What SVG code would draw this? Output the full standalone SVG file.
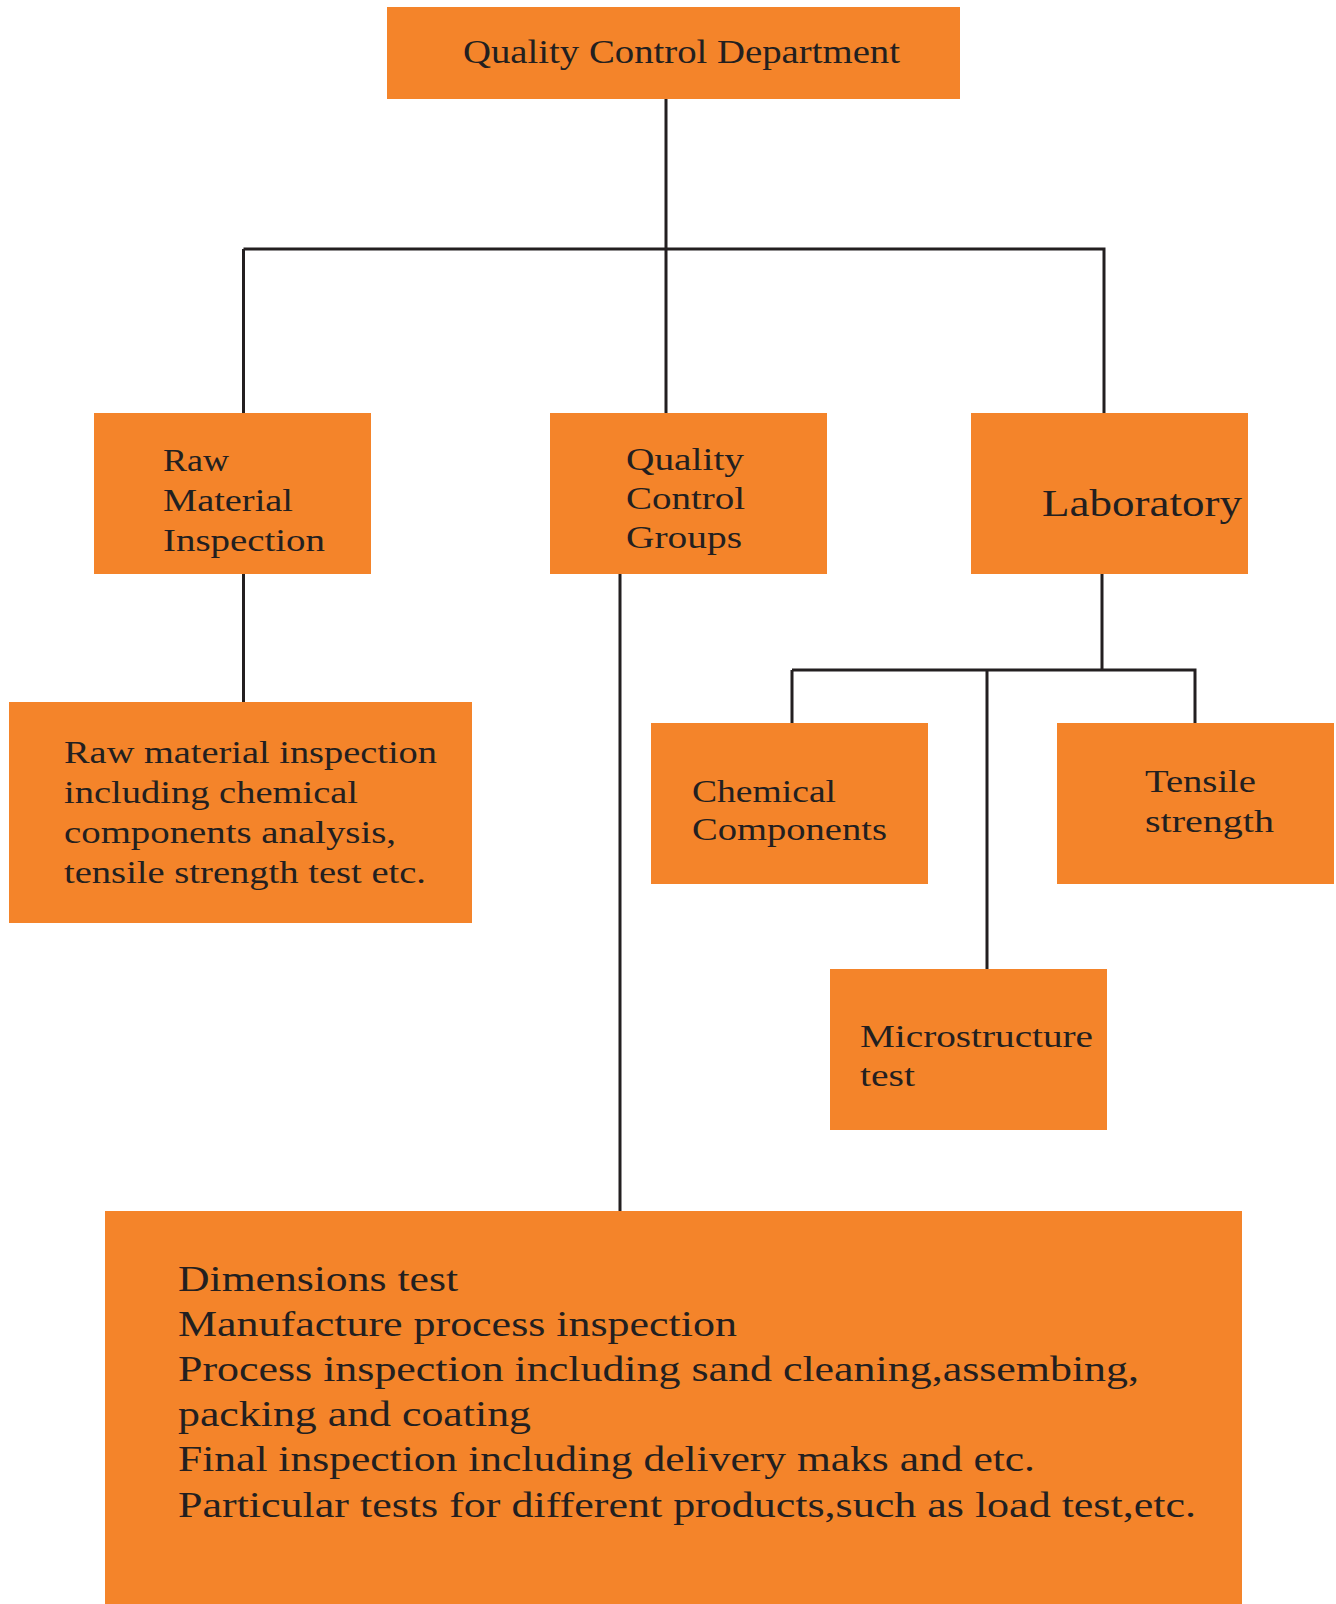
<svg xmlns="http://www.w3.org/2000/svg" width="1336" height="1604" viewBox="0 0 1336 1604">
<style>
.box{fill:#F4842A}
.t{font-family:"Liberation Serif","DejaVu Serif",serif;fill:#231F20}
.s30{font-size:32px}
.s31{font-size:33px}
.s36{font-size:38px}
.s34{font-size:35px}
.ln{stroke:#231F20;stroke-width:3;fill:none}
</style>
<rect width="1336" height="1604" fill="#ffffff"/>
<g id="connectors">
<path class="ln" d="M666 99V249M243.5 249H1105.5M243.5 249V413M666 249V413M1104 249V413"/>
<path class="ln" d="M243.5 573V702"/>
<path class="ln" d="M620 573V1211"/>
<path class="ln" d="M1102 573V670M792 670H1196.5M792 670V723M987 670V969M1195 670V723"/>
</g>
<g id="n-qcd">
<rect class="box" x="387" y="7" width="573" height="92"/>
<text class="t s31" x="463" y="63" textLength="437" lengthAdjust="spacingAndGlyphs">Quality Control Department</text>
</g>
<g id="n-rmi">
<rect class="box" x="94" y="413" width="277" height="161"/>
<text class="t s30" x="163" y="471" textLength="66" lengthAdjust="spacingAndGlyphs">Raw</text>
<text class="t s30" x="163" y="511" textLength="130" lengthAdjust="spacingAndGlyphs">Material</text>
<text class="t s30" x="163" y="551" textLength="162" lengthAdjust="spacingAndGlyphs">Inspection</text>
</g>
<g id="n-qcg">
<rect class="box" x="550" y="413" width="277" height="161"/>
<text class="t s30" x="626" y="470" textLength="118" lengthAdjust="spacingAndGlyphs">Quality</text>
<text class="t s30" x="626" y="509" textLength="119" lengthAdjust="spacingAndGlyphs">Control</text>
<text class="t s30" x="626" y="548" textLength="116" lengthAdjust="spacingAndGlyphs">Groups</text>
</g>
<g id="n-lab">
<rect class="box" x="971" y="413" width="277" height="161"/>
<text class="t s36" x="1042" y="516" textLength="200" lengthAdjust="spacingAndGlyphs">Laboratory</text>
</g>
<g id="n-rmi-detail">
<rect class="box" x="9" y="702" width="463" height="221"/>
<text class="t s30" x="64" y="763" textLength="373" lengthAdjust="spacingAndGlyphs">Raw material inspection</text>
<text class="t s30" x="64" y="803" textLength="294" lengthAdjust="spacingAndGlyphs">including chemical</text>
<text class="t s30" x="64" y="843" textLength="332" lengthAdjust="spacingAndGlyphs">components analysis,</text>
<text class="t s30" x="64" y="883" textLength="362" lengthAdjust="spacingAndGlyphs">tensile strength test etc.</text>
</g>
<g id="n-chem">
<rect class="box" x="651" y="723" width="277" height="161"/>
<text class="t s30" x="692" y="802" textLength="144" lengthAdjust="spacingAndGlyphs">Chemical</text>
<text class="t s30" x="692" y="840" textLength="195" lengthAdjust="spacingAndGlyphs">Components</text>
</g>
<g id="n-tensile">
<rect class="box" x="1057" y="723" width="277" height="161"/>
<text class="t s30" x="1145" y="792" textLength="111" lengthAdjust="spacingAndGlyphs">Tensile</text>
<text class="t s30" x="1145" y="832" textLength="129" lengthAdjust="spacingAndGlyphs">strength</text>
</g>
<g id="n-micro">
<rect class="box" x="830" y="969" width="277" height="161"/>
<text class="t s30" x="860" y="1047" textLength="233" lengthAdjust="spacingAndGlyphs">Microstructure</text>
<text class="t s30" x="860" y="1086" textLength="55" lengthAdjust="spacingAndGlyphs">test</text>
</g>
<g id="n-qcg-detail">
<rect class="box" x="105" y="1211" width="1137" height="393"/>
<text class="t s34" x="178" y="1291" textLength="280" lengthAdjust="spacingAndGlyphs">Dimensions test</text>
<text class="t s34" x="178" y="1336" textLength="559" lengthAdjust="spacingAndGlyphs">Manufacture process inspection</text>
<text class="t s34" x="178" y="1381" textLength="961" lengthAdjust="spacingAndGlyphs">Process inspection including sand cleaning,assembing,</text>
<text class="t s34" x="178" y="1426" textLength="353" lengthAdjust="spacingAndGlyphs">packing and coating</text>
<text class="t s34" x="178" y="1471" textLength="857" lengthAdjust="spacingAndGlyphs">Final inspection including delivery maks and etc.</text>
<text class="t s34" x="178" y="1517" textLength="1018" lengthAdjust="spacingAndGlyphs">Particular tests for different products,such as load test,etc.</text>
</g>
</svg>
